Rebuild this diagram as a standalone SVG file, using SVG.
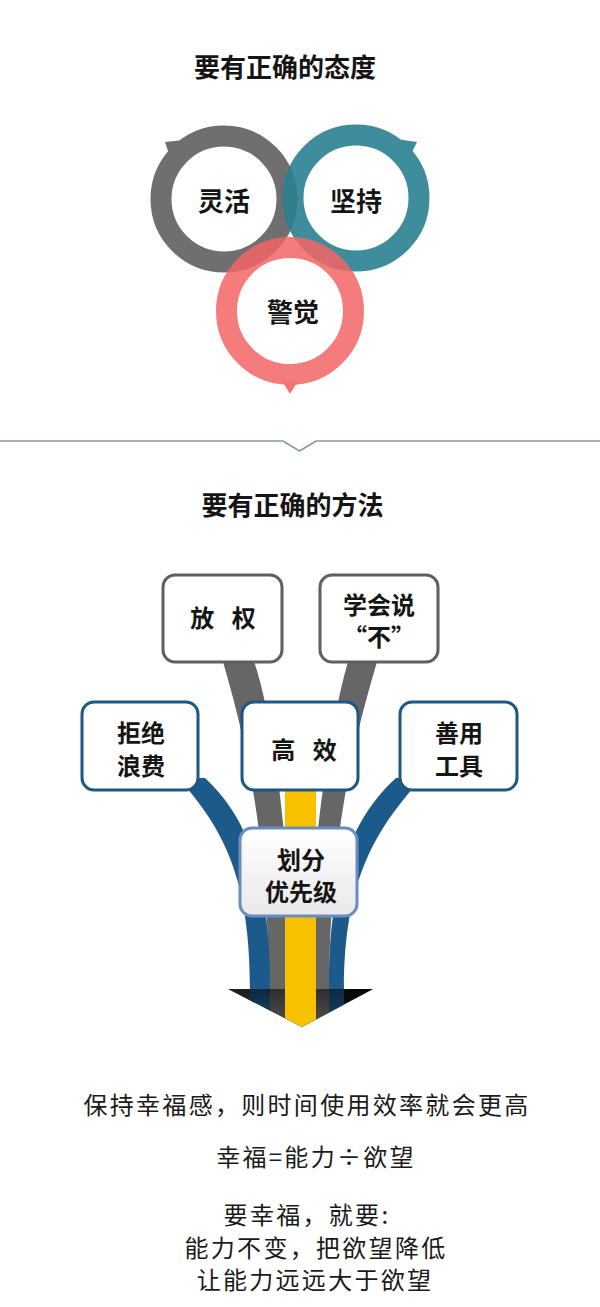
<svg xmlns="http://www.w3.org/2000/svg" width="600" height="1307" viewBox="0 0 600 1307">
<style>
text{font-family:"Noto Sans CJK SC","Noto Sans",sans-serif;fill:#151515;text-anchor:middle}
.title{font-size:26px;font-weight:700}
.ring{fill:none;stroke-width:21}
.ctext{font-size:26px;font-weight:700}
.btext{font-size:24px;font-weight:700}
.body{font-size:24px;letter-spacing:2.3px;fill:#1a1a1a}
.gbox{fill:#ffffff;stroke:#5f5f5f;stroke-width:3}
.bbox{fill:#ffffff;stroke:#1d5783;stroke-width:3}
.blue{fill:#1b5a8b}
.gray{fill:#666667}
</style>
<defs>
<linearGradient id="arrowG" x1="0" y1="0" x2="1" y2="0">
<stop offset="0" stop-color="#4a4a4a"/>
<stop offset="0.5" stop-color="#222"/>
<stop offset="1" stop-color="#0a0a0a"/>
</linearGradient>
<linearGradient id="shadeG" x1="0" y1="0" x2="0" y2="1">
<stop offset="0" stop-color="#000" stop-opacity="0.55"/>
<stop offset="1" stop-color="#000" stop-opacity="0.2"/>
</linearGradient>
<linearGradient id="boxG" x1="0" y1="0" x2="0" y2="1">
<stop offset="0" stop-color="#ffffff"/>
<stop offset="1" stop-color="#e9e9e9"/>
</linearGradient>
<clipPath id="bandClip">
<rect x="0" y="600" width="600" height="390"/>
<polygon points="228,989 373,989 302,1027"/>
</clipPath>
</defs>

<g id="title1"><text class="title" x="285" y="77">要有正确的态度</text></g>

<g id="circle-gray">
<circle class="ring" cx="224" cy="199" r="63" stroke="#6f6f6f"/>
<polygon points="184,140 165,142 169,154" fill="#6f6f6f"/>
<text class="ctext" x="224" y="211">灵活</text>
</g>
<g id="circle-teal">
<circle class="ring" cx="356" cy="198" r="63" stroke="#2a7f91" stroke-opacity="0.9"/>
<polygon points="396,139 417,142 411,154" fill="#3a8c9c"/>
<text class="ctext" x="356" y="211">坚持</text>
</g>
<g id="circle-red">
<circle class="ring" cx="290" cy="311" r="63.5" stroke="#f26565" stroke-opacity="0.85"/>
<polygon points="282,381 298,381 290,394" fill="#f47272"/>
<text class="ctext" x="293" y="322">警觉</text>
</g>

<g id="divider">
<polyline points="0,441 283,441 299.5,451 316,441 600,441" fill="none" stroke="#8796a3" stroke-width="1.5"/>
</g>

<g id="title2"><text class="title" x="292.5" y="515">要有正确的方法</text></g>

<g id="connectors">
<polygon id="arrowhead" points="228,989 373,989 302,1027" fill="url(#arrowG)"/>
<g clip-path="url(#bandClip)">
<path class="gray" d="M221,655 C240,720 268,820 269,990 L269,1040 L292,1040 L292,990 C290,850 275,720 252,655 Z"/>
<path class="gray" d="M379,655 C360,720 330,820 329,990 L329,1040 L308,1040 L308,990 C310,850 330,720 350,655 Z"/>
<path class="blue" d="M178,778 C225,830 250,880 250,990 L250,1040 L270,1040 L270,990 C270,880 250,820 205,778 Z"/>
<path class="blue" d="M422,778 C375,830 344,880 344,990 L344,1040 L329,1040 L329,990 C329,880 350,820 396,778 Z"/>
</g>
<polygon points="228,989 373,989 302,1027" fill="url(#shadeG)"/>
<g clip-path="url(#bandClip)">
<rect x="285" y="780" width="31" height="260" fill="#f7c100"/>
</g>
</g>

<g id="node-fangquan">
<rect class="gbox" x="163" y="575" width="119" height="87" rx="12"/>
<text class="btext" x="226" y="627" letter-spacing="6">放 权</text>
</g>
<g id="node-xuehuishuobu">
<rect class="gbox" x="320" y="575" width="118" height="87" rx="12"/>
<text class="btext" x="379" y="614">学会说</text>
<text class="btext" x="379" y="646">“不”</text>
</g>
<g id="node-jujuelangfei">
<rect class="bbox" x="82" y="702" width="116" height="88" rx="12"/>
<text class="btext" x="141" y="742">拒绝</text>
<text class="btext" x="141" y="775">浪费</text>
</g>
<g id="node-gaoxiao">
<rect class="bbox" x="242" y="702" width="116" height="88" rx="12"/>
<text class="btext" x="307" y="759" letter-spacing="6">高 效</text>
</g>
<g id="node-shanyonggongju">
<rect class="bbox" x="400" y="702" width="117" height="88" rx="12"/>
<text class="btext" x="459" y="742">善用</text>
<text class="btext" x="459" y="775">工具</text>
</g>
<g id="node-huafen">
<rect x="240" y="828" width="117" height="88" rx="12" fill="url(#boxG)" stroke="#6a8dc0" stroke-width="3"/>
<text class="btext" x="301" y="869">划分</text>
<text class="btext" x="301" y="901">优先级</text>
</g>

<g id="summary">
<text class="body" x="307" y="1114">保持幸福感，则时间使用效率就会更高</text>
<text class="body" x="316" y="1166">幸福=能力÷欲望</text>
<text class="body" x="307" y="1224">要幸福，就要:</text>
<text class="body" x="316" y="1257">能力不变，把欲望降低</text>
<text class="body" x="315" y="1289">让能力远远大于欲望</text>
</g>
</svg>
